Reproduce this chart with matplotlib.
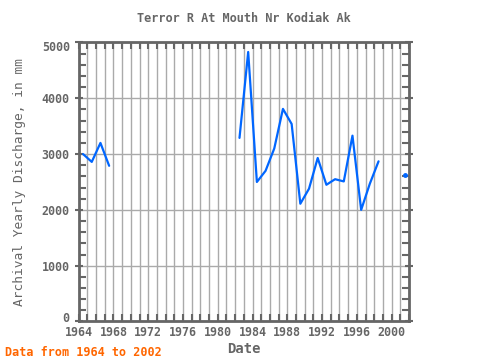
import numpy as np
import matplotlib
matplotlib.use("Agg")
import matplotlib.pyplot as plt
import matplotlib.transforms as mtrans
from matplotlib.ticker import MultipleLocator

# water years, plotted at mid-year
years_a = [1964, 1965, 1966, 1967]
flow_a = [3000, 2860, 3200, 2790]
years_b = [1982, 1983, 1984, 1985, 1986, 1987, 1988, 1989, 1990, 1991,
           1992, 1993, 1994, 1995, 1996, 1997, 1998]
flow_b = [3290, 4830, 2500, 2700, 3100, 3810, 3540, 2110, 2380, 2930,
          2450, 2550, 2510, 3330, 2000, 2470, 2870]
years_c = [2001]
flow_c = [2630]

INK = "#666666"
BLUE = "#0066ff"
FONT = "DejaVu Sans Mono"

fig = plt.figure(figsize=(4.8, 3.6), dpi=100)
ax = fig.add_axes([0.164, 0.107, 0.688, 0.775])

for yrs, vals in [(years_a, flow_a), (years_b, flow_b)]:
    ax.plot(np.array(yrs) + 0.5, vals, color=BLUE, lw=1.6, zorder=3,
            solid_capstyle="round")
ax.plot(np.array(years_c) + 0.5, flow_c, color=BLUE, ls="none", marker="o",
        ms=2.5, zorder=3)

ax.set_xlim(1964, 2002)
ax.set_ylim(0, 5000)
ax.xaxis.set_major_locator(MultipleLocator(4))
ax.xaxis.set_minor_locator(MultipleLocator(1))
ax.yaxis.set_major_locator(MultipleLocator(1000))
ax.yaxis.set_minor_locator(MultipleLocator(200))
ax.grid(True, which="major", axis="y", color="#aaaaaa", lw=1)
ax.grid(True, which="both", axis="x", color="#aaaaaa", lw=1)

for s in ax.spines.values():
    s.set_color(INK)
    s.set_linewidth(2)
ax.tick_params(which="both", direction="in", top=True, right=True,
               color=INK, width=1.5, length=5, labelsize=8.4, labelcolor=INK)
ax.tick_params(axis="y", which="major", direction="inout", length=6)

# end labels pulled inside the frame, as in the original
fig.canvas.draw()
ylabs = ax.get_yticklabels()
for lab in ylabs:
    txt = lab.get_text()
    if txt == "0":
        lab.set_transform(lab.get_transform() +
                          mtrans.ScaledTranslation(0, 4 / 100, fig.dpi_scale_trans))
    elif txt == "5000":
        lab.set_transform(lab.get_transform() +
                          mtrans.ScaledTranslation(0, -4 / 100, fig.dpi_scale_trans))
for lab in ax.get_xticklabels() + ylabs:
    lab.set_family(FONT)
    lab.set_fontweight("bold")

ax.set_title("Terror R At Mouth Nr Kodiak Ak", family=FONT, fontsize=8.6,
             color=INK, fontweight="bold", pad=15)
ax.set_xlabel("Date", family=FONT, fontsize=10, color=INK, fontweight="bold",
              labelpad=2)
ax.set_ylabel("Archival Yearly Discharge, in mm", family=FONT, fontsize=9.3,
              color=INK, labelpad=11)
fig.text(0.01, 0.012, "Data from 1964 to 2002", family=FONT, fontsize=8.5,
         color="#ff6600", fontweight="bold")

fig.savefig("out.png", dpi=100)
